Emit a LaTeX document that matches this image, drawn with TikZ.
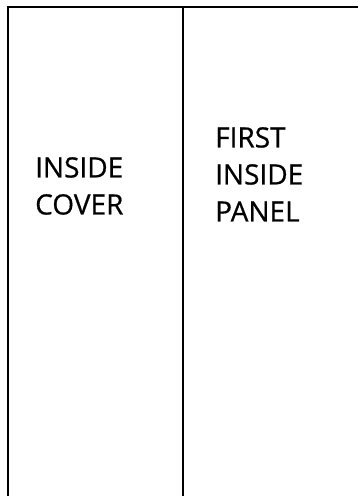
\documentclass[tikz,border=0pt]{standalone}
\usepackage{fontspec}
\setmainfont{Open Sans}
\usepackage{tikz}
\usetikzlibrary{positioning}
\definecolor{cFold}{HTML}{000000}
\tikzset{
  edge/.style ={draw=cFold, line width=2pt},
  fold/.style ={draw=cFold, line width=2.6pt},
  label/.style={align=left, inner sep=0pt, anchor=north west,
                font=\fontsize{28}{37}\selectfont\addfontfeatures{FakeBold=0.6}},
}

\begin{document}
\begin{tikzpicture}[x=1pt,y=-1pt]
    \useasboundingbox (0,0) rectangle (358,496);
    \coordinate (tl) at (8,7);
    \coordinate (tr) at (358,7);
    \coordinate (bl) at (8,496);
    \coordinate (mt) at (183,7);
    \coordinate (mb) at (183,496);
    \draw[edge] (bl) -- (tl) -- (tr);
    \draw[fold] (mt) -- (mb);
    \node[label] (cover) at (35,157) {INSIDE\\COVER};
    \node[label] (panel) at (215,127) {FIRST\\INSIDE\\PANEL};
  \end{tikzpicture}
\end{document}
